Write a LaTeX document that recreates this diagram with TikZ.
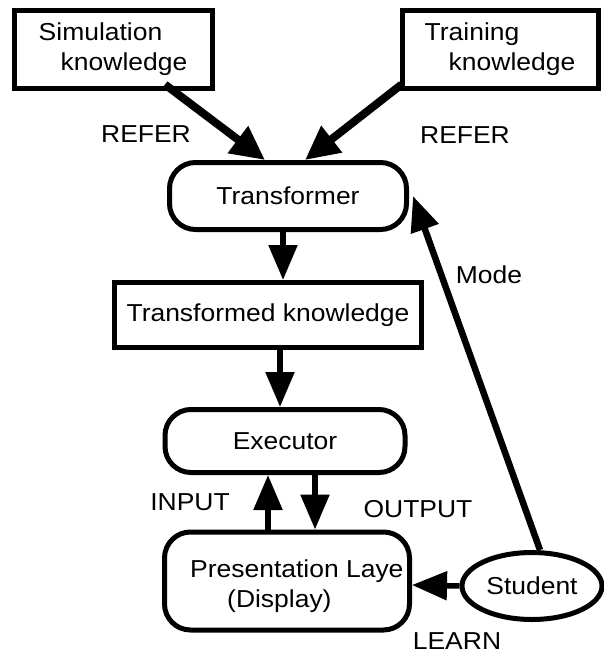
\documentclass[tikz,border=0pt]{standalone}
\usepackage{fontspec}
\setmainfont[FakeStretch=1.08]{Liberation Sans}
\usetikzlibrary{arrows.meta,shapes.geometric}

\begin{document}
\begin{tikzpicture}[x=1pt,y=-1pt,
    font=\fontsize{24.5}{30}\selectfont,
    sqbox/.style={draw,line width=5pt,rectangle,inner sep=0pt},
    rndbox/.style={draw,line width=5pt,rectangle,rounded corners=26pt,inner sep=0pt},
    oval/.style={draw,line width=5pt,ellipse,inner sep=0pt},
    lbl/.style={inner sep=0pt},
    bigarrow/.style={line width=8pt,-{Triangle[length=34pt,width=32pt]}},
    flow/.style={line width=5.5pt,-{Triangle[length=35pt,width=28pt]}}]
  \useasboundingbox (0,0) rectangle (604,654);

  % knowledge sources
  \node[sqbox,minimum width=198pt,minimum height=78pt,align=left] (sim) at (113,49)
    {Simulation\\\hspace*{22pt}knowledge};
  \node[sqbox,minimum width=196pt,minimum height=78pt,align=left] (train) at (500,49)
    {Training\\\hspace*{24pt}knowledge};

  % processing chain
  \node[rndbox,minimum width=237pt,minimum height=67pt] (trans) at (288,196) {Transformer};
  \node[sqbox,minimum width=307pt,minimum height=65pt] (tk) at (268,315) {Transformed knowledge};
  \node[rndbox,minimum width=240pt,minimum height=63pt] (exec) at (285,441) {Executor};
  \node[rndbox,minimum width=245pt,minimum height=98pt] (pres) at (287,581) {};
  \node[lbl,anchor=west,align=left] (prestext) at (190,586)
    {Presentation Laye\\\hspace*{37pt}(Display)};
  \node[oval,minimum width=140pt,minimum height=67pt] (stud) at (532,586) {Student};

  % connectors
  \draw[bigarrow] ([xshift=52pt,yshift=6pt]sim.south) -- ([xshift=-23pt]trans.north);
  \draw[bigarrow] ([xshift=2pt,yshift=6pt]train.south west) -- ([xshift=17pt]trans.north);
  \draw[flow] ([xshift=-5pt]trans.south) -- ([xshift=15pt]tk.north);
  \draw[flow] ([xshift=12pt]tk.south) -- ([xshift=-5pt]exec.north);
  \draw[flow] ([xshift=-19pt]pres.north) -- ([xshift=-17pt]exec.south);
  \draw[flow] ([xshift=30pt]exec.south) -- ([xshift=28pt]pres.north);
  \draw[flow] (stud.west) -- ([yshift=-4pt]pres.east);
  \draw[line width=6.5pt,-{Triangle[length=35pt,width=28pt]}]
    ([xshift=8pt]stud.north) -- ([xshift=4pt]trans.east);

  % connector labels
  \node[lbl] (refer1) at (146,134) {REFER};
  \node[lbl] (refer2) at (465,135) {REFER};
  \node[lbl] (mode) at (489,275) {Mode};
  \node[lbl] (input) at (190,502) {INPUT};
  \node[lbl] (output) at (418,509) {OUTPUT};
  \node[lbl] (learn) at (457,641) {LEARN};
\end{tikzpicture}
\end{document}
